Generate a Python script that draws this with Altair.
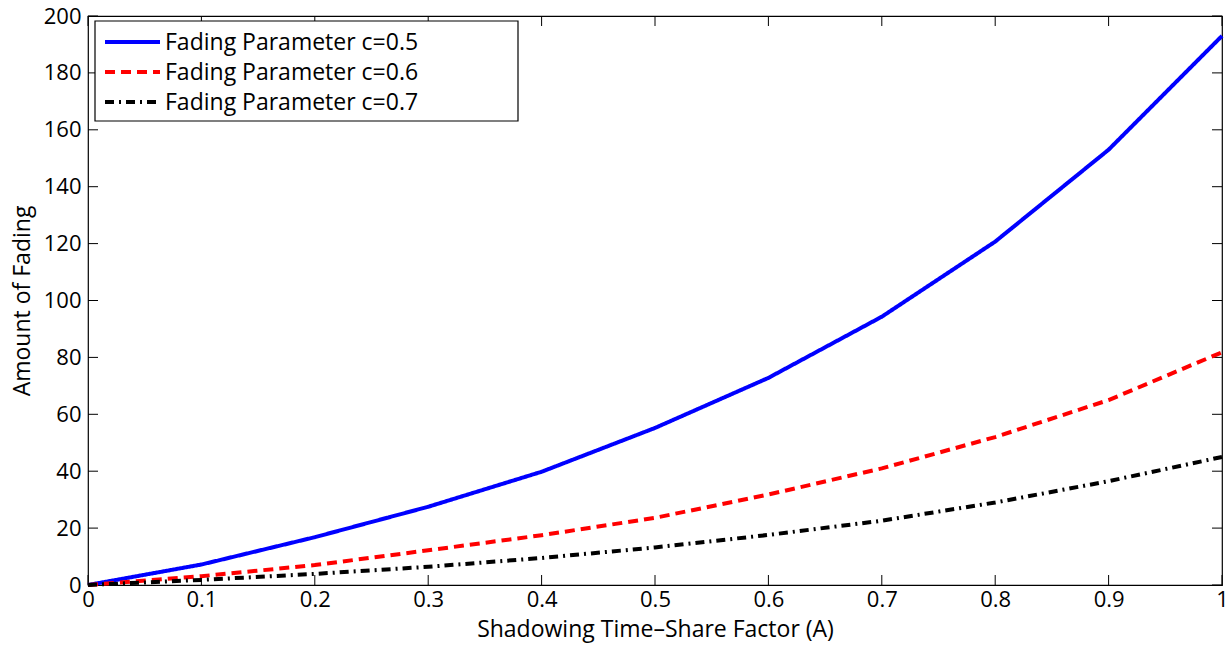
import altair as alt
import pandas as pd

# Data
A = [0.0, 0.1, 0.2, 0.3, 0.4, 0.5, 0.6, 0.7, 0.8, 0.9, 1.0]
c05 = [0.0, 7.2, 16.8, 27.5, 39.8, 55.2, 72.8, 94.3, 120.7, 153.0, 193.0]
c06 = [0.0, 3.1, 7.0, 12.2, 17.5, 23.6, 31.8, 41.0, 52.0, 65.0, 81.8]
c07 = [0.0, 1.8, 3.9, 6.4, 9.5, 13.2, 17.6, 22.6, 29.0, 36.5, 45.0]
series_names = ["Fading Parameter c=0.5", "Fading Parameter c=0.6", "Fading Parameter c=0.7"]
series_colors = ["#0000ff", "#ff0000", "#000000"]
series_dashes = [[1, 0], [10, 6], [9, 5, 2, 5]]
x_ticks = [0.0, 0.1, 0.2, 0.3, 0.4, 0.5, 0.6, 0.7, 0.8, 0.9, 1.0]
y_ticks = [0, 20, 40, 60, 80, 100, 120, 140, 160, 180, 200]

W, H = 1134, 569
FONT = "Open Sans"
FS_TICK = 22
FS_TEXT = 23

rows = []
for name, vals in zip(series_names, [c05, c06, c07]):
    for a, v in zip(A, vals):
        rows.append({"A": a, "value": v, "series": name})
df = pd.DataFrame(rows)

xscale = alt.Scale(domain=[0, 1], nice=False, zero=False)
yscale = alt.Scale(domain=[0, 200], nice=False)

lines = alt.Chart(df).mark_line(strokeWidth=4).encode(
    x=alt.X("A:Q", scale=xscale,
            axis=alt.Axis(values=x_ticks, format="~g", title="Shadowing Time\u2013Share Factor (A)",
                          labelFlush=False, labelPadding=4, titlePadding=8)),
    y=alt.Y("value:Q", scale=yscale,
            axis=alt.Axis(values=y_ticks, title="Amount of Fading", labelFlush=False,
                          labelPadding=7, titlePadding=9)),
    color=alt.Color("series:N", scale=alt.Scale(domain=series_names, range=series_colors), legend=None),
    strokeDash=alt.StrokeDash("series:N", scale=alt.Scale(domain=series_names, range=series_dashes),
                              legend=None),
)

# legend drawn in the top-left corner of the plot
legend_layers = [
    alt.Chart(pd.DataFrame({"k": [0]})).mark_rect(
        fill="white", stroke="black", strokeWidth=1.2
    ).encode(x=alt.value(7), x2=alt.value(430), y=alt.value(5), y2=alt.value(105))
]
row_y = [26, 56, 86]
for name, col, dash, ry_ in zip(series_names, series_colors, series_dashes, row_y):
    legend_layers.append(
        alt.Chart(pd.DataFrame({"series": [name]})).mark_rule(
            color=col, strokeWidth=4, strokeDash=dash
        ).encode(x=alt.value(17), x2=alt.value(72), y=alt.value(ry_))
    )
    legend_layers.append(
        alt.Chart(pd.DataFrame({"series": [name]})).mark_text(
            font=FONT, fontSize=FS_TEXT, color="black", align="left", baseline="middle"
        ).encode(text="series:N", x=alt.value(77), y=alt.value(ry_ + 1))
    )

xt = pd.DataFrame({"A": x_ticks})
yt = pd.DataFrame({"value": y_ticks})

tick_len = 10
bx = alt.Chart(xt).mark_rule(color="black", strokeWidth=1).encode(
    x=alt.X("A:Q", scale=xscale), y=alt.value(H), y2=alt.value(H - tick_len))
tx = alt.Chart(xt).mark_rule(color="black", strokeWidth=1).encode(
    x=alt.X("A:Q", scale=xscale), y=alt.value(0), y2=alt.value(tick_len))
ly = alt.Chart(yt).mark_rule(color="black", strokeWidth=1).encode(
    y=alt.Y("value:Q", scale=yscale), x=alt.value(0), x2=alt.value(tick_len))
ry = alt.Chart(yt).mark_rule(color="black", strokeWidth=1).encode(
    y=alt.Y("value:Q", scale=yscale), x=alt.value(W), x2=alt.value(W - tick_len))

chart = alt.layer(bx, tx, ly, ry, lines, *legend_layers).properties(
    width=W, height=H,
    autosize=alt.AutoSizeParams(type="none"),
    padding={"left": 88, "top": 16, "right": 7, "bottom": 60},
    background="white",
).configure_view(stroke="black", strokeWidth=1.2).configure_axis(
    domain=False, ticks=False, grid=False,
    labelFont=FONT, labelFontSize=FS_TICK, labelColor="black",
    titleFont=FONT, titleFontSize=FS_TEXT, titleFontWeight="normal", titleColor="black",
)

chart.save("out.html", embed_options={"renderer": "svg", "actions": False})
